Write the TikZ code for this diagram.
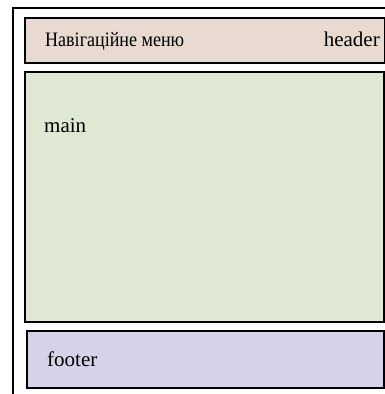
\documentclass[tikz,border=0pt]{standalone}
\usepackage{fontspec}
\setmainfont{Liberation Serif}
\definecolor{headerfill}{HTML}{E8DAD0}
\definecolor{mainfill}{HTML}{DEE8D3}
\definecolor{footerfill}{HTML}{D6D3E8}
\begin{document}
\begin{tikzpicture}[x=1pt,y=-1pt,
  region/.style={draw=black,line width=1.6pt,anchor=north west,inner sep=0pt},
  label/.style={inner sep=0pt,font=\fontsize{21}{25}\selectfont}]
\useasboundingbox (0,0) rectangle (385,394);
% page frame, open at the bottom and right
\coordinate (pageBL) at (13,394);
\coordinate (pageTL) at (13,8);
\coordinate (pageTR) at (385,8);
\draw[line width=1.6pt] (pageBL) -- (pageTL) -- (pageTR);
% layout regions
\node[region,fill=headerfill,minimum width=360pt,minimum height=45pt] (header) at (24,17) {};
\node[region,fill=mainfill,minimum width=359pt,minimum height=250pt] (main) at (24,71) {};
\node[region,fill=footerfill,minimum width=357pt,minimum height=57pt] (footer) at (26,330) {};
% labels
\node[label,anchor=base west] (navtext) at (45,46) {\fontsize{20.5}{25}\selectfont\scalebox{0.88}[1]{Навігаційне меню}};
\node[label,anchor=base east] (headertext) at (380,46) {header};
\node[label,anchor=base west] (maintext) at (44,132) {main};
\node[label,anchor=base west] (footertext) at (47,366) {footer};
\end{tikzpicture}
\end{document}
